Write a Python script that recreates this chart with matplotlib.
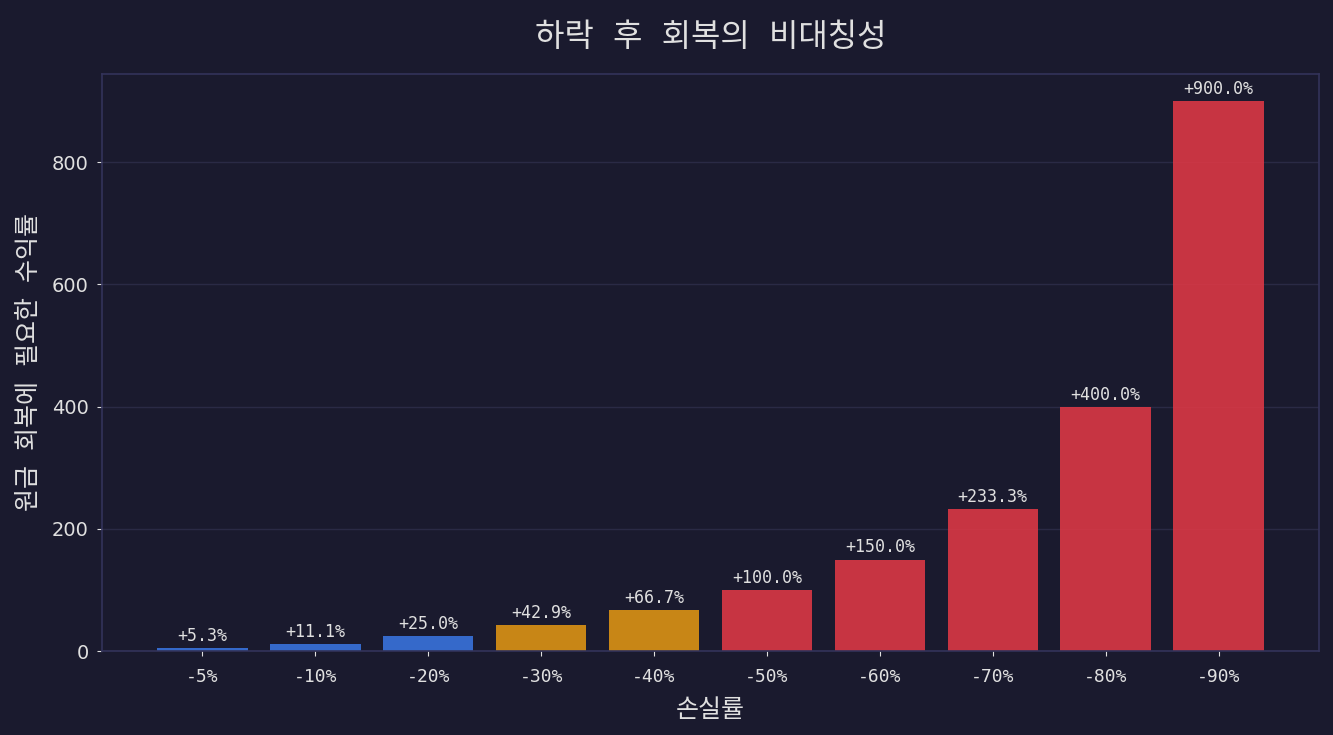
import matplotlib
matplotlib.use("Agg")
import matplotlib.pyplot as plt

losses = ["-5%", "-10%", "-20%", "-30%", "-40%", "-50%", "-60%", "-70%", "-80%", "-90%"]
recovery = [5.3, 11.1, 25.0, 42.9, 66.7, 100.0, 150.0, 233.3, 400.0, 900.0]
colors = ["#3a78e6"] * 3 + ["#e89a12"] * 2 + ["#e63946"] * 5

BG = "#1a1a2e"
TXT = "#e0e0e0"
MONO_KR = ["DejaVu Sans Mono", "Noto Sans CJK KR"]

plt.rcParams["font.family"] = ["Noto Sans CJK KR", "DejaVu Sans"]

fig, ax = plt.subplots(figsize=(13.33, 7.35), dpi=100)
fig.patch.set_facecolor(BG)
ax.set_facecolor(BG)

x = range(len(losses))
bars = ax.bar(x, recovery, color=colors, alpha=0.85, width=0.8, zorder=2)
for b, v in zip(bars, recovery):
    ax.text(b.get_x() + b.get_width() / 2, b.get_height() + 5, f"+{v:.1f}%",
            ha="center", va="bottom", color=TXT, fontsize=12,
            family="DejaVu Sans Mono")

ax.set_xticks(list(x))
ax.set_xticklabels(losses)
ax.tick_params(colors=TXT)
ax.tick_params(axis="x", labelsize=13, labelfontfamily="DejaVu Sans Mono", pad=8.5)
ax.tick_params(axis="y", labelsize=14, labelfontfamily="DejaVu Sans", pad=6)
ax.yaxis.grid(True, color="#2a2a45", linewidth=1, zorder=0)
ax.set_axisbelow(True)
for s in ax.spines.values():
    s.set_color("#33335a")
    s.set_linewidth(1.2)

ax.set_title("하락 후 회복의 비대칭성", color=TXT, fontsize=23, pad=20, family=MONO_KR)
ax.set_xlabel("손실률", color=TXT, fontsize=18, labelpad=9, family=MONO_KR)
ax.set_ylabel("원금 회복에 필요한 수익률", color=TXT, fontsize=18, labelpad=8, family=MONO_KR)

fig.subplots_adjust(left=0.0765, right=0.9895, top=0.9, bottom=0.114)
fig.savefig("out.png", dpi=100, facecolor=BG)
